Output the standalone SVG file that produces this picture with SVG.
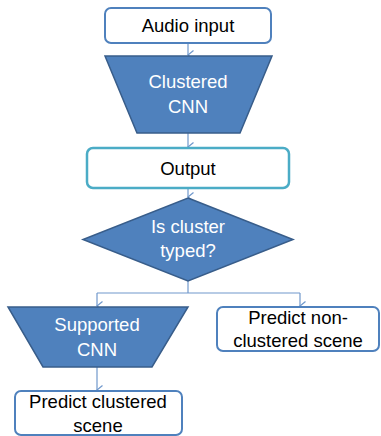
<svg xmlns="http://www.w3.org/2000/svg" width="381" height="436" viewBox="0 0 381 436">
<defs>
<style>
.box{fill:#fff;stroke:#4f81bd;stroke-width:2}
.boxc{fill:#fff;stroke:#4bacc6;stroke-width:2.5}
.shape{fill:#4f81bd;stroke:#385d8a;stroke-width:1.5}
.t{font-family:"Liberation Sans",Arial,sans-serif;font-size:18.5px;text-anchor:middle;fill:#000}
.w{fill:#fff}
.c{fill:none;stroke:#7098cc;stroke-width:1.2}
</style>
<marker id="ah" markerWidth="12" markerHeight="8" refX="6" refY="7" orient="auto" markerUnits="userSpaceOnUse" viewBox="0 0 12 8">
<path d="M1.5,1.5 L6,7 L10.5,1.5" fill="none" stroke="#7098cc" stroke-width="1.2"/>
</marker>
</defs>
<g id="connectors">
<path class="c" d="M188,43 V55" marker-end="url(#ah)"/>
<path class="c" d="M188,133 V147" marker-end="url(#ah)"/>
<path class="c" d="M188,188 V197" marker-end="url(#ah)"/>
<path class="c" d="M188,281 V293"/>
<path class="c" d="M97,293 H300"/>
<path class="c" d="M97,293 V306" marker-end="url(#ah)"/>
<path class="c" d="M300,293 V306" marker-end="url(#ah)"/>
<path class="c" d="M97,367 V390" marker-end="url(#ah)"/>
</g>
<g id="audio-input">
<rect class="box" x="105" y="8" width="166" height="35" rx="6"/>
<text class="t" x="188" y="32">Audio input</text>
</g>
<g id="clustered-cnn">
<polygon class="shape" points="105,56 272,56 240,133 137,133"/>
<text class="t w" x="188" y="88">Clustered</text>
<text class="t w" x="188" y="113">CNN</text>
</g>
<g id="output">
<rect class="boxc" x="87" y="148" width="202" height="40" rx="6"/>
<text class="t" x="188" y="175">Output</text>
</g>
<g id="is-cluster-typed">
<polygon class="shape" points="188,198 293,239.5 188,281 83,239.5"/>
<text class="t w" x="188" y="233">Is cluster</text>
<text class="t w" x="188" y="257">typed?</text>
</g>
<g id="supported-cnn">
<polygon class="shape" points="8,307 188,307 152,367 43,367"/>
<text class="t w" x="97" y="331">Supported</text>
<text class="t w" x="97" y="356">CNN</text>
</g>
<g id="predict-non-clustered">
<rect class="box" x="217" y="307" width="162" height="44" rx="6"/>
<text class="t" x="298" y="324">Predict non-</text>
<text class="t" x="298" y="347">clustered scene</text>
</g>
<g id="predict-clustered">
<rect class="box" x="15" y="391" width="167" height="44" rx="6"/>
<text class="t" x="98" y="408">Predict clustered</text>
<text class="t" x="98" y="432">scene</text>
</g>
</svg>
